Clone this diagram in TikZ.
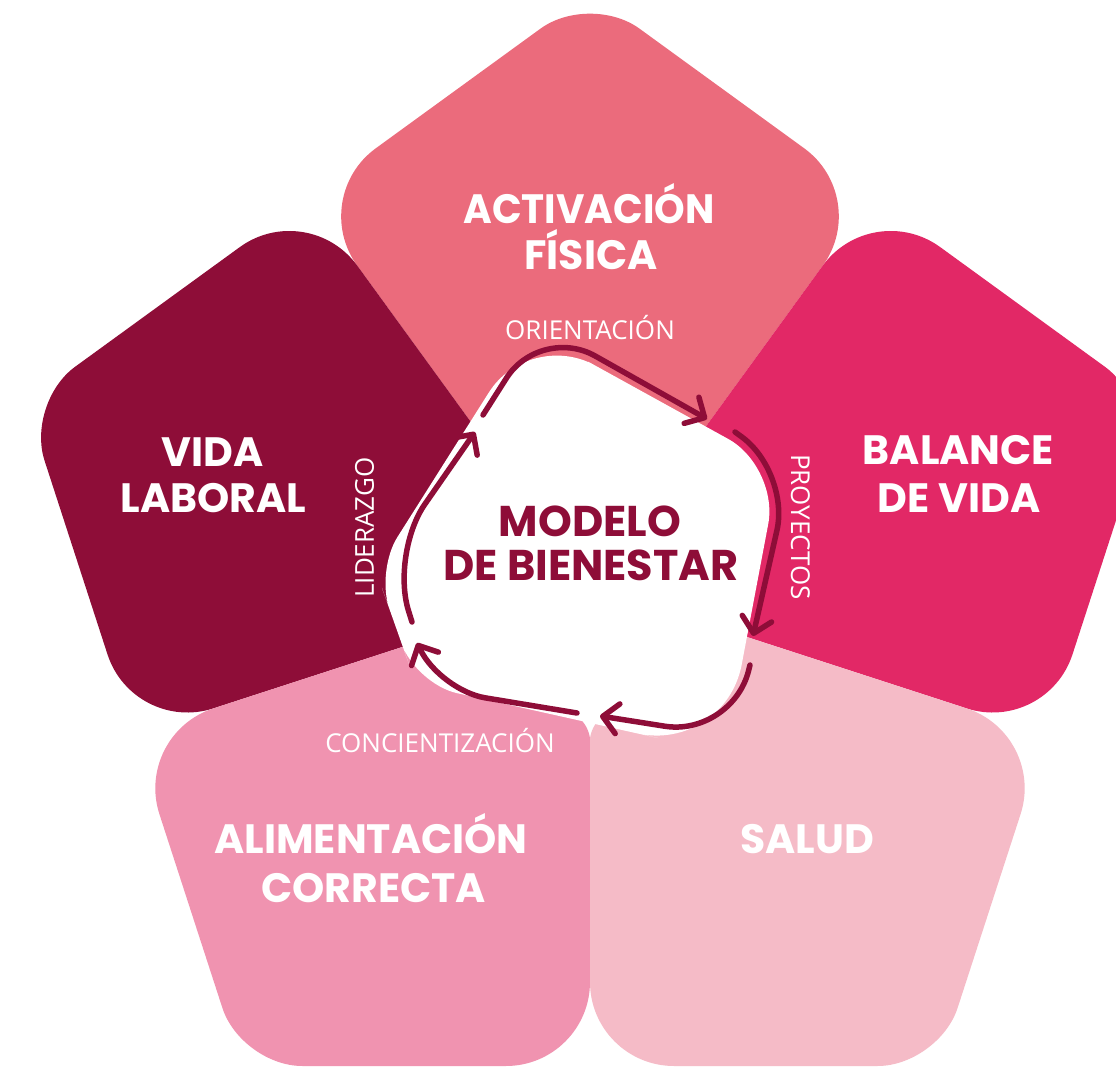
\documentclass[tikz,border=0pt]{standalone}
\usepackage{fontspec}
\usetikzlibrary{arrows.meta,calc}
\newfontfamily\headfont{Poppins}
\newfontfamily\labfont{Open Sans}
\definecolor{cAct}{HTML}{EB6B7C}
\definecolor{cVida}{HTML}{8E0D38}
\definecolor{cBal}{HTML}{E22866}
\definecolor{cAli}{HTML}{F093B0}
\definecolor{cSal}{HTML}{F5BBC7}
\definecolor{cDark}{HTML}{8E0D38}
% petal: #1 = apex direction, #2 = colour
\newcommand{\petal}[2]{%
  \fill[#2] ($({#1-36}:480)!.5!(#1:593.3)$) [rounded corners=61pt] -- (#1:593.3)
    -- ($(#1:593.3)!.5!({#1+36}:480)$) [rounded corners=84pt] -- ({#1+36}:480)
    -- ({#1+36}:310) [rounded corners=14pt] -- ({#1+36}:140) -- ({#1-36}:140)
    -- ({#1-36}:310) [rounded corners=84pt] -- ({#1-36}:480) -- cycle;}
\begin{document}
\begin{tikzpicture}[x=1pt,y=1pt,
  head/.style={text=white,font=\headfont\bfseries\fontsize{41}{41}\selectfont,inner sep=0pt,anchor=base},
  ctr/.style={text=cDark,font=\headfont\bfseries\fontsize{43}{43}\selectfont,inner sep=0pt,anchor=base},
  lab/.style={text=white,font=\labfont\fontsize{26}{26}\selectfont,inner sep=0pt,anchor=base},
  cyc/.style={draw=cDark,line width=5.5pt,line cap=round,line join=round,
              -{Straight Barb[length=15pt,width=30pt,round]}}]
\useasboundingbox (-590,-482) rectangle (526,586);
\clip (-590,-482) rectangle (526,586);
\fill[white] (-590,-482) rectangle (526,586);
% petals
\petal{90}{cAct}
\petal{162}{cVida}
\petal{18}{cBal}
\petal{234}{cAli}
\petal{306}{cSal}
% central white blob
\coordinate (T) at (-61,257);
\coordinate (R) at (189,119);
\coordinate (BR) at (135,-167);
\coordinate (BL) at (-174,-98);
\coordinate (L) at (-214,15);
\fill[white] ($(L)!.5!(T)$) [rounded corners=75pt] -- (T) -- ($(T)!.5!(R)$)
  [rounded corners=58pt] -- (R) -- ($(R)!.5!(BR)$)
  [rounded corners=90pt] -- (BR) -- ($(BR)!.5!(BL)$)
  [rounded corners=42pt] -- (BL) -- ($(BL)!.5!(L)$)
  [rounded corners=40pt] -- (L) -- cycle;
% cycle arrows
\coordinate (a1s) at (-107,171); \coordinate (a1c) at (-49.8,261); \coordinate (a1e) at (117,167);
\coordinate (a2s) at (145,154);  \coordinate (a2c) at (200.2,114.2); \coordinate (a2e) at (163,-50);
\coordinate (a3s) at (160,-79);  \coordinate (a3c) at (142,-150.8); \coordinate (a3e) at (10,-130);
\coordinate (a4s) at (-13,-127); \coordinate (a4c) at (-149.2,-104.5); \coordinate (a4e) at (-173,-57);
\coordinate (a5s) at (-178,-36); \coordinate (a5c) at (-199.3,32.6); \coordinate (a5e) at (-115,154);
\draw[cyc] (a1s) [rounded corners=63pt] -- (a1c) -- (a1e);
\draw[cyc] (a2s) [rounded corners=60pt] -- (a2c) -- (a2e);
\draw[cyc] (a3s) [rounded corners=68pt] -- (a3c) -- (a3e);
\draw[cyc] (a4s) [rounded corners=45pt] -- (a4c) -- (a4e);
\draw[cyc] (a5s) [rounded corners=60pt] -- (a5c) -- (a5e);
% titles
\node[head,xscale=0.95] (act1) at (-1,362) {ACTIVACIÓN};
\node[head] (act2) at (1,316) {FÍSICA};
\node[head] (vid1) at (-377,119) {VIDA};
\node[head] (vid2) at (-376.5,73) {LABORAL};
\node[head] (bal1) at (368.5,121) {BALANCE};
\node[head] (bal2) at (369,73) {DE VIDA};
\node[head] (ali1) at (-219,-267) {ALIMENTACIÓN};
\node[head] (ali2) at (-216.5,-316) {CORRECTA};
\node[head] (sal) at (217,-267) {SALUD};
\node[ctr] (mod1) at (0,49) {MODELO};
\node[ctr] (mod2) at (1,6) {DE BIENESTAR};
% small labels
\node[lab] (ori) at (0,246) {ORIENTACIÓN};
\node[lab] (con) at (-150,-166) {CONCIENTIZACIÓN};
\node[lab,rotate=90] (lid) at (-216,58.5) {LIDERAZGO};
\node[lab,rotate=-90] (pro) at (201,59) {PROYECTOS};
\end{tikzpicture}
\end{document}
